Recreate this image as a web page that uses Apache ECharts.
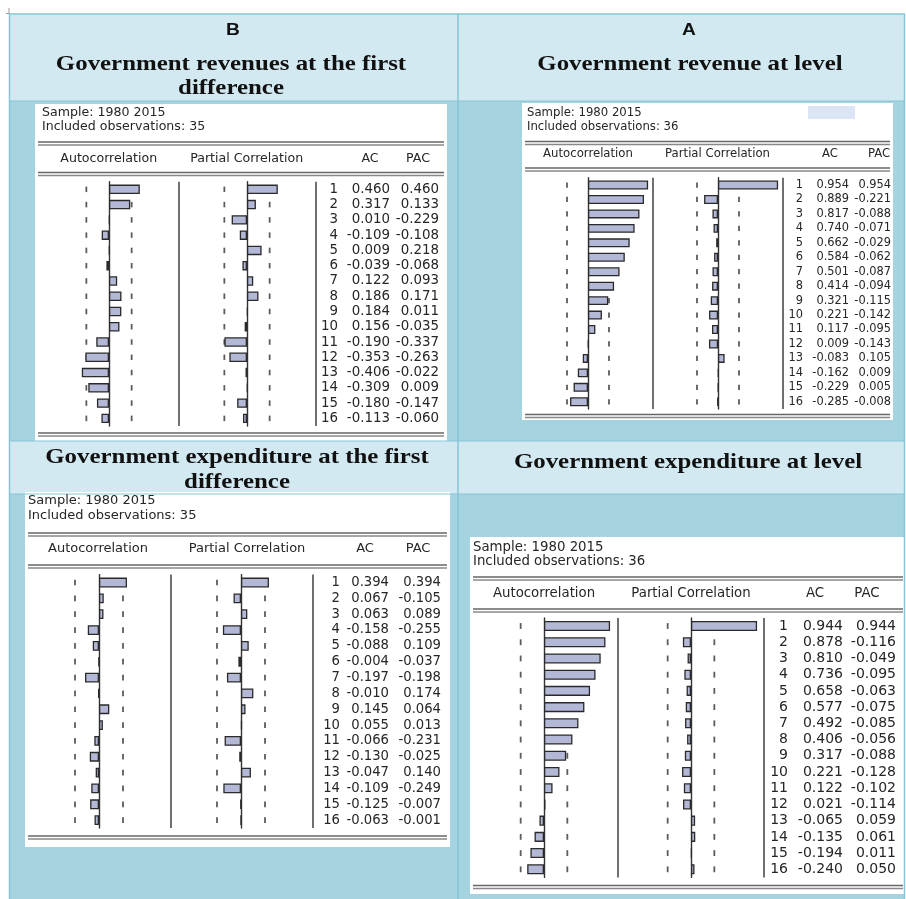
<!DOCTYPE html>
<html>
<head>
<meta charset="utf-8">
<script src="https://cdn.jsdelivr.net/npm/echarts@6/dist/echarts.min.js"></script>
<style>
  html, body { margin: 0; padding: 0; background: #fff; }
  #chart { width: 906px; height: 899px; }
</style>
</head>
<body>
<div id="chart"></div>
<script>
// lags shown in every correlogram
const lags = [1, 2, 3, 4, 5, 6, 7, 8, 9, 10, 11, 12, 13, 14, 15, 16];

// B: government revenues at the first difference
const revDiffAC  = [0.460, 0.317, 0.010, -0.109, 0.009, -0.039, 0.122, 0.186, 0.184, 0.156, -0.190, -0.353, -0.406, -0.309, -0.180, -0.113];
const revDiffPAC = [0.460, 0.133, -0.229, -0.108, 0.218, -0.068, 0.093, 0.171, 0.011, -0.035, -0.337, -0.263, -0.022, 0.009, -0.147, -0.060];
// A: government revenue at level
const revLevelAC  = [0.954, 0.889, 0.817, 0.740, 0.662, 0.584, 0.501, 0.414, 0.321, 0.221, 0.117, 0.009, -0.083, -0.162, -0.229, -0.285];
const revLevelPAC = [0.954, -0.221, -0.088, -0.071, -0.029, -0.062, -0.087, -0.094, -0.115, -0.142, -0.095, -0.143, 0.105, 0.009, 0.005, -0.008];
// government expenditure at the first difference
const expDiffAC  = [0.394, 0.067, 0.063, -0.158, -0.088, -0.004, -0.197, -0.010, 0.145, 0.055, -0.066, -0.130, -0.047, -0.109, -0.125, -0.063];
const expDiffPAC = [0.394, -0.105, 0.089, -0.255, 0.109, -0.037, -0.198, 0.174, 0.064, 0.013, -0.231, -0.025, 0.140, -0.249, -0.007, -0.001];
// government expenditure at level
const expLevelAC  = [0.944, 0.878, 0.810, 0.736, 0.658, 0.577, 0.492, 0.406, 0.317, 0.221, 0.122, 0.021, -0.065, -0.135, -0.194, -0.240];
const expLevelPAC = [0.944, -0.116, -0.049, -0.095, -0.063, -0.075, -0.085, -0.056, -0.088, -0.128, -0.102, -0.114, 0.059, 0.061, 0.011, 0.050];

const sampleText = 'Sample: 1980 2015';
const obsRevDiff = 35, obsRevLevel = 36, obsExpDiff = 35, obsExpLevel = 36;
const colHeads = ['Autocorrelation', 'Partial Correlation', 'AC', 'PAC'];

// layout of each eviews picture (pixels)
const panels = [
  { ac: revDiffAC, pac: revDiffPAC, obs: obsRevDiff,
    box: [35, 104, 447, 441], sampleX: 42, sampleY: [113, 127],
    dbl: [142, 172.5, 433], headY: 159, heads: [108.7, 246.7, 370, 418],
    rowTop: 181.7, rowH: 15.27, acZero: 109, pacZero: 247, scale: 67,
    seps: [179, 316], cols: [338, 390, 439], font: 12.6, numFont: 13.4 },
  { ac: revLevelAC, pac: revLevelPAC, obs: obsRevLevel,
    box: [522, 103, 893, 420], sampleX: 527, sampleY: [113, 127],
    dbl: [141.5, 168, 414.5], headY: 154, heads: [588, 717.5, 830, 879],
    rowTop: 177.8, rowH: 14.45, acZero: 588, pacZero: 718, scale: 63,
    seps: [653, 783], cols: [803, 849, 891], font: 11.7, numFont: 11.4,
    mark: [808, 106, 47, 13] },
  { ac: expDiffAC, pac: expDiffPAC, obs: obsExpDiff,
    box: [25, 492, 450, 847], sampleX: 28, sampleY: [501, 516],
    dbl: [533, 565, 836], headY: 549, heads: [98, 247, 365, 418],
    rowTop: 574.6, rowH: 15.84, acZero: 99, pacZero: 241, scale: 71,
    seps: [171, 313], cols: [340, 389, 441], font: 13, numFont: 13.2 },
  { ac: expLevelAC, pac: expLevelPAC, obs: obsExpLevel,
    box: [470, 537, 906, 894], sampleX: 473, sampleY: [548, 562],
    dbl: [577, 609, 885.5], headY: 594, heads: [544, 691, 815, 867],
    rowTop: 617.9, rowH: 16.22, acZero: 544, pacZero: 691, scale: 70,
    seps: [618, 764], cols: [788, 843, 896], font: 13.3, numFont: 14 }
];

const LIGHT = '#d3e9f1', DARK = '#a5d3e0', EDGE = '#86c5d7';
const ink = '#262626';
const fam = '"DejaVu Sans"';

function fmt(v) { return v.toFixed(3); }

function rect(x, y, w, h, fill, z) {
  return { type: 'rect', z: z || 0, silent: true, shape: { x: x, y: y, width: w, height: h }, style: { fill: fill } };
}
function line(x1, y1, x2, y2, stroke, w, z) {
  return { type: 'line', z: z || 1, silent: true, shape: { x1: x1, y1: y1, x2: x2, y2: y2 }, style: { stroke: stroke, lineWidth: w } };
}
function txt(x, y, s, font, color, align, sx) {
  return { type: 'text', x: x, y: y, z: 5, silent: true, scaleX: sx || 1,
    style: { text: s, x: 0, y: 0, font: font, fill: color, textAlign: align || 'left', verticalAlign: 'middle', textVerticalAlign: 'middle' } };
}

const graphic = [];
// table cells
graphic.push(rect(9, 14, 896, 87, LIGHT, 0));
graphic.push(rect(9, 101, 896, 340, DARK, 0));
graphic.push(rect(9, 441, 896, 53, LIGHT, 0));
graphic.push(rect(9, 494, 896, 405, DARK, 0));
graphic.push(line(9, 14, 905, 14, EDGE, 1.5, 1));
graphic.push(line(9.5, 14, 9.5, 899, EDGE, 1.5, 1));
graphic.push(line(904.5, 14, 904.5, 899, EDGE, 1.5, 1));
graphic.push(line(458, 14, 458, 899, EDGE, 1.5, 1));
graphic.push(line(9, 101, 905, 101, EDGE, 1, 1));
graphic.push(line(9, 441, 905, 441, EDGE, 1, 1));
graphic.push(line(9, 494, 905, 494, EDGE, 1, 1));
// little corner mark
graphic.push(line(6, 13.5, 9, 13.5, '#999', 1, 1));
graphic.push(line(9, 8, 9, 14, '#999', 1, 1));

// cell titles
const serif = 'bold 22px "Liberation Serif"';
graphic.push(txt(233, 31, 'B', 'bold 16px "Liberation Sans"', '#111', 'center', 1.2));
graphic.push(txt(689, 31, 'A', 'bold 16px "Liberation Sans"', '#111', 'center', 1.2));
graphic.push(txt(231, 64, 'Government revenues at the first', serif, '#111', 'center', 1.13));
graphic.push(txt(231, 88, 'difference', serif, '#111', 'center', 1.13));
graphic.push(txt(690, 64, 'Government revenue at level', serif, '#111', 'center', 1.13));
graphic.push(txt(237, 457, 'Government expenditure at the first', serif, '#111', 'center', 1.13));
graphic.push(txt(237, 482, 'difference', serif, '#111', 'center', 1.13));
graphic.push(txt(688, 462, 'Government expenditure at level', serif, '#111', 'center', 1.13));

const grid = [], xAxis = [], yAxis = [], series = [];

panels.forEach(function (p) {
  const b = p.box;
  const h = lags.length * p.rowH;
  const f = p.font + 'px ' + fam;
  graphic.push(rect(b[0], b[1], b[2] - b[0], b[3] - b[1], '#ffffff', 0));
  if (p.mark) graphic.push(rect(p.mark[0], p.mark[1], p.mark[2], p.mark[3], '#dce5f5', 1));
  graphic.push(txt(p.sampleX, p.sampleY[0], sampleText, f, ink));
  graphic.push(txt(p.sampleX, p.sampleY[1], 'Included observations: ' + p.obs, f, ink));
  p.dbl.forEach(function (y) {
    graphic.push(line(b[0] + 3, y, b[2] - 3, y, '#666666', 1.7, 2));
    graphic.push(line(b[0] + 3, y + 3, b[2] - 3, y + 3, '#888888', 1.5, 2));
  });
  colHeads.forEach(function (s, i) {
    graphic.push(txt(p.heads[i], p.headY, s, f, ink, 'center'));
  });
  p.seps.forEach(function (x) {
    graphic.push(line(x, p.rowTop, x, p.rowTop + h, '#333333', 1.4, 2));
  });

  const bound = 2 / Math.sqrt(p.obs);
  [[p.acZero, p.ac], [p.pacZero, p.pac]].forEach(function (pair) {
    const gi = grid.length;
    grid.push({ left: pair[0] - p.scale, top: p.rowTop, width: 2 * p.scale, height: h });
    xAxis.push({ gridIndex: gi, type: 'value', min: -1, max: 1, show: false });
    yAxis.push({ gridIndex: gi, type: 'category', data: lags.map(String), inverse: true,
      axisLine: { show: true, onZero: true, lineStyle: { color: '#333333', width: 1.4 } },
      axisTick: { show: false }, axisLabel: { show: false }, splitLine: { show: false } });
    series.push({ type: 'scatter', xAxisIndex: gi, yAxisIndex: gi, symbol: 'rect',
      symbolSize: [1.8, p.rowH * 0.36], itemStyle: { color: '#333333' }, z: 1, silent: true,
      data: lags.reduce(function (acc, l, i) { acc.push([-bound, i], [bound, i]); return acc; }, []) });
    series.push({ type: 'bar', xAxisIndex: gi, yAxisIndex: gi, data: pair[1], barWidth: p.rowH * 0.62,
      itemStyle: { color: '#b3b8d6', borderColor: '#2a2a2a', borderWidth: 1.3 }, z: 3, silent: true });
  });

  // numbers table on its own thin grid
  const gi = grid.length;
  const nf = { fontSize: p.numFont, fontFamily: 'DejaVu Sans', color: ink, align: 'right' };
  grid.push({ left: p.cols[2], top: p.rowTop, width: 1, height: h });
  xAxis.push({ gridIndex: gi, type: 'value', show: false });
  yAxis.push({ gridIndex: gi, type: 'category', data: lags.map(String), inverse: true, position: 'left',
    axisLine: { show: false }, axisTick: { show: false }, splitLine: { show: false },
    axisLabel: { interval: 0, margin: 0, align: 'right', fontSize: p.numFont, fontFamily: 'DejaVu Sans', color: ink,
      formatter: function (v, i) { return '{l|' + v + '}{a|' + fmt(p.ac[i]) + '}{p|' + fmt(p.pac[i]) + '}'; },
      rich: {
        l: Object.assign({ width: 22 }, nf),
        a: Object.assign({ width: p.cols[1] - p.cols[0] }, nf),
        p: Object.assign({ width: p.cols[2] - p.cols[1] }, nf)
      } } });
});

const chart = echarts.init(document.getElementById('chart'));
chart.setOption({
  animation: false,
  backgroundColor: '#ffffff',
  graphic: graphic,
  grid: grid,
  xAxis: xAxis,
  yAxis: yAxis,
  series: series
});
</script>
</body>
</html>
